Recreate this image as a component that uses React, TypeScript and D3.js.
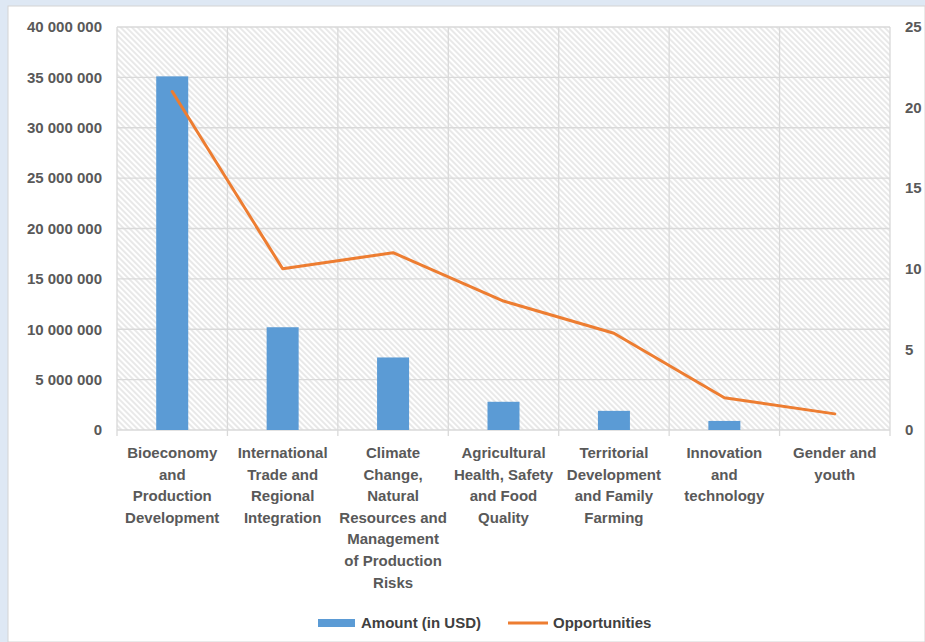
import { scaleLinear, scaleBand, line } from "d3";

const CATEGORIES = [
  "Bioeconomy and Production Development",
  "International Trade and Regional Integration",
  "Climate Change, Natural Resources and Management of Production Risks",
  "Agricultural Health, Safety and Food Quality",
  "Territorial Development and Family Farming",
  "Innovation and technology",
  "Gender and youth",
];
const LABEL_LINES = [
  ["Bioeconomy", "and", "Production", "Development"],
  ["International", "Trade and", "Regional", "Integration"],
  ["Climate", "Change,", "Natural", "Resources and", "Management", "of Production", "Risks"],
  ["Agricultural", "Health, Safety", "and Food", "Quality"],
  ["Territorial", "Development", "and Family", "Farming"],
  ["Innovation", "and", "technology"],
  ["Gender and", "youth"],
];
const AMOUNTS = [35100000, 10200000, 7200000, 2800000, 1900000, 900000, 0];
const OPPORTUNITIES = [21, 10, 11, 8, 6, 2, 1];
const LEFT_TICKS = [0, 5e6, 10e6, 15e6, 20e6, 25e6, 30e6, 35e6, 40e6];
const RIGHT_TICKS = [0, 5, 10, 15, 20, 25];

const W = 925, H = 642;
const P = { left: 117, right: 890, top: 27, bottom: 430 };
const FONT = "'Liberation Sans', Arial, sans-serif";
const TXT = "#595959";
const GRID = "#d9d9d9";
const FS = 15;

const fmt = (v: number) => String(v).replace(/\B(?=(\d{3})+(?!\d))/g, " ");

export default function App() {
  const x = scaleBand().domain(CATEGORIES).range([P.left, P.right]);
  const yL = scaleLinear().domain([0, 40e6]).range([P.bottom, P.top]);
  const yR = scaleLinear().domain([0, 25]).range([P.bottom, P.top]);
  const bw = 32;
  const pts: [number, number][] = CATEGORIES.map((c, i) => [(x(c) ?? 0) + x.bandwidth() / 2, yR(OPPORTUNITIES[i])]);
  const path = line()(pts) ?? "";
  const bounds = CATEGORIES.map(c => x(c) ?? 0).concat([P.right]);

  return (
    <svg width={W} height={H} style={{ position: "fixed", left: 0, top: 0 }} fontFamily={FONT}>
      <defs>
        <pattern id="hatch" width={4} height={4} patternUnits="userSpaceOnUse" patternTransform="rotate(45)">
          <line x1={0} y1={2} x2={4} y2={2} stroke="#d2d2d2" strokeWidth={1} />
        </pattern>
      </defs>
      <rect width={W} height={H} fill="#dee8f4" />
      <rect x={8} y={6} width={W - 8} height={H - 6} fill="#fff" stroke="#d4d4d4" />
      <rect x={P.left} y={P.top} width={P.right - P.left} height={P.bottom - P.top} fill="url(#hatch)" />
      {LEFT_TICKS.map(t => (
        <line key={t} x1={P.left} x2={P.right} y1={yL(t)} y2={yL(t)} stroke={GRID} strokeWidth={1.3} />
      ))}
      {bounds.map((b, i) => (
        <line key={i} x1={b} x2={b} y1={P.top} y2={P.bottom + 6} stroke={GRID} strokeWidth={1.3} />
      ))}
      {LEFT_TICKS.map(t => (
        <text key={t} x={102} y={yL(t)} dy="0.35em" textAnchor="end" fontSize={FS} fontWeight="bold" fill={TXT}>{fmt(t)}</text>
      ))}
      {RIGHT_TICKS.map(t => (
        <text key={t} x={905} y={yR(t)} dy="0.35em" textAnchor="start" fontSize={FS} fontWeight="bold" fill={TXT}>{t}</text>
      ))}
      {CATEGORIES.map((c, i) => AMOUNTS[i] > 0 && (
        <rect key={c} x={(x(c) ?? 0) + x.bandwidth() / 2 - bw / 2} y={yL(AMOUNTS[i])} width={bw} height={P.bottom - yL(AMOUNTS[i])} fill="#5b9bd5" />
      ))}
      <path d={path} fill="none" stroke="#ed7d31" strokeWidth={3} strokeLinejoin="round" strokeLinecap="round" />
      {CATEGORIES.map((c, i) => (
        <text key={c} x={(x(c) ?? 0) + x.bandwidth() / 2} y={458} textAnchor="middle" fontSize={FS} fontWeight="bold" fill={TXT}>
          {LABEL_LINES[i].map((l, j) => (
            <tspan key={j} x={(x(c) ?? 0) + x.bandwidth() / 2} dy={j === 0 ? 0 : 21.6}>{l}</tspan>
          ))}
        </text>
      ))}
      <rect x={318} y={619} width={37} height={8} fill="#5b9bd5" />
      <text x={361} y={623} dy="0.35em" fontSize={FS} fontWeight="bold" fill="#404040">Amount (in USD)</text>
      <line x1={508} x2={548} y1={623} y2={623} stroke="#ed7d31" strokeWidth={3} />
      <text x={553} y={623} dy="0.35em" fontSize={FS} fontWeight="bold" fill="#404040">Opportunities</text>
    </svg>
  );
}
